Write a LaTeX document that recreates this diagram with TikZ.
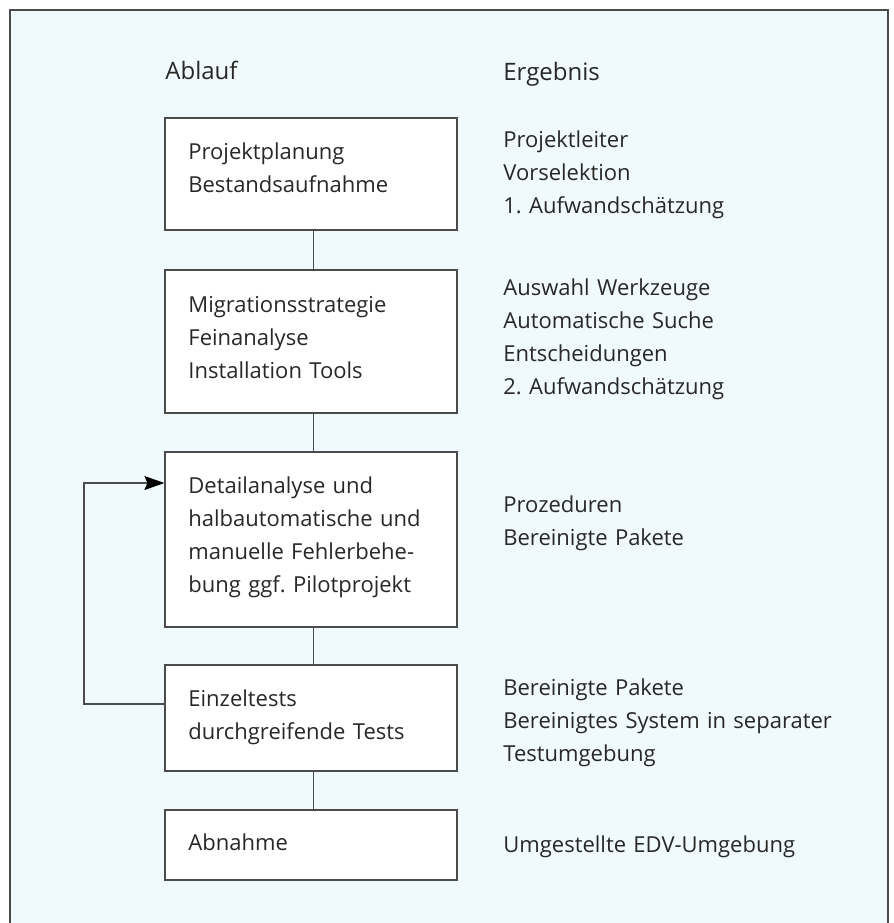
\documentclass[tikz,border=0pt]{standalone}
\usepackage{fontspec}
\setmainfont{Open Sans}
\usetikzlibrary{arrows.meta}
\definecolor{paper}{RGB}{240,249,251}
\definecolor{ink}{RGB}{40,40,40}
\definecolor{rule}{RGB}{75,75,75}
\frenchspacing

\begin{document}
\begin{tikzpicture}
                \tikzset{x=0.5pt, y=-0.5pt}
                \tikzstyle{stage}=[rectangle, draw=rule, fill=white, line width=0.6pt, minimum width=146pt, inner sep=0pt]
                \tikzstyle{txt}=[anchor=base west, inner sep=0pt, text width=140pt, align=left, text=ink, font=\fontsize{11}{16.5}\selectfont]
                \tikzstyle{res}=[txt, text width=190pt]
                \tikzstyle{head}=[txt, font=\fontsize{12}{16.5}\selectfont]
                \tikzstyle{link}=[draw=rule, line width=0.6pt]

                \useasboundingbox (0,0) rectangle (894,923);
                \fill[paper] (10,10) rectangle (888,923);
                \draw[link] (10,923) -- (10,10) -- (888,10) -- (888,923);

                \draw (165, 79)     node[head]  (ha)    {Ablauf};
                \draw (503, 80)     node[head]  (he)    {Ergebnis};

                \draw (311,174.0)   node[stage, minimum height=56pt]   (s1) {};
                \draw (311,341.5)   node[stage, minimum height=71.5pt] (s2) {};
                \draw (311,539.5)   node[stage, minimum height=87.5pt] (s3) {};
                \draw (311,718.0)   node[stage, minimum height=53pt]   (s4) {};
                \draw (311,845.0)   node[stage, minimum height=35pt]   (s5) {};

                \draw (188,159)     node[txt]   (t1)    {Projektplanung\\Bestandsaufnahme};
                \draw (188,312)     node[txt]   (t2)    {Migrationsstrategie\\Feinanalyse\\Installation Tools};
                \draw (188,493)     node[txt]   (t3)    {Detailanalyse und\\halbautomatische und\\manuelle Fehlerbehe-\\bung ggf. Pilotprojekt};
                \draw (188,706)     node[txt]   (t4)    {Einzeltests\\durchgreifende Tests};
                \draw (188,850)     node[txt]   (t5)    {Abnahme};

                \draw (503,147)     node[res]   (e1)    {Projektleiter\\Vorselektion\\1. Aufwandschätzung};
                \draw (503,295)     node[res]   (e2)    {Auswahl Werkzeuge\\Automatische Suche\\Entscheidungen\\2. Aufwandschätzung};
                \draw (503,512)     node[res]   (e3)    {Prozeduren\\Bereinigte Pakete};
                \draw (503,695)     node[res]   (e4)    {Bereinigte Pakete\\Bereinigtes System in separater\\Testumgebung};
                \draw (503,852)     node[res]   (e5)    {Umgestellte EDV-Umgebung};

                \draw[link] ([xshift=1.3pt]s1.south) -- ([xshift=1.3pt]s2.north);
                \draw[link] ([xshift=1.3pt]s2.south) -- ([xshift=1.3pt]s3.north);
                \draw[link] ([xshift=1.3pt]s3.south) -- ([xshift=1.3pt]s4.north);
                \draw[link] ([xshift=1.3pt]s4.south) -- ([xshift=1.3pt]s5.north);

                % Rueckkopplung Tests -> Detailanalyse
                \coordinate (fb1) at (84,704);
                \coordinate (fb2) at (84,483);
                \draw[link, -{Stealth[length=10pt, width=7pt, inset=1.5pt, black]}] (s4.west |- fb1) -- (fb1) -- (fb2) -- (s3.west |- fb2);
            \end{tikzpicture}
\end{document}
